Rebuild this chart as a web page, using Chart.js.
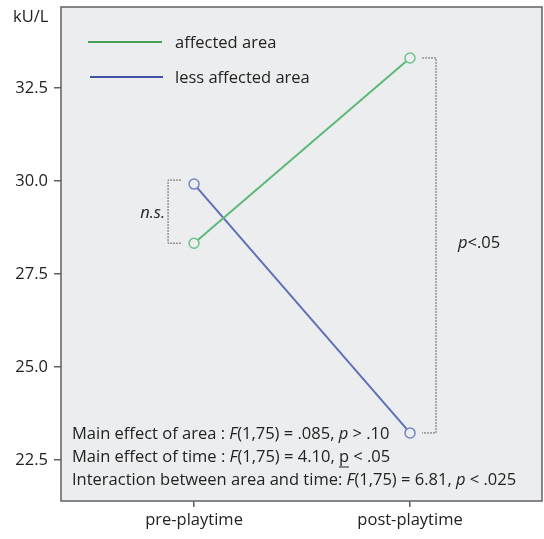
<!DOCTYPE html>
<html>
<head>
<meta charset="utf-8">
<script src="https://cdn.jsdelivr.net/npm/chart.js@4.4.1/dist/chart.umd.min.js"></script>
<style>
  body { margin: 0; background: #fff; }
</style>
</head>
<body>
<canvas id="myChart" width="544" height="539"></canvas>
<script>
const categories = ['pre-playtime', 'post-playtime'];
const affectedArea = [28.33, 33.31];
const lessAffectedArea = [29.92, 23.23];
const yTicks = [22.5, 25.0, 27.5, 30.0, 32.5];

const FONT = '"Open Sans", "Noto Sans", sans-serif';
const TXT = '#222';
const FS = 16.5;

function toPoints(values) {
    return values.map(function (v, i) { return { x: i, y: v }; });
}

// draw a line of text made of pieces, some italic / underlined
function drawRich(ctx, x, y, parts, size) {
    parts.forEach(function (p) {
        ctx.font = (p.i ? 'italic ' : '') + size + 'px ' + FONT;
        ctx.fillText(p.t, x, y);
        var w = ctx.measureText(p.t).width;
        if (p.u) {
            ctx.beginPath();
            ctx.moveTo(x, y + 10);
            ctx.lineTo(x + w, y + 10);
            ctx.lineWidth = 1;
            ctx.strokeStyle = TXT;
            ctx.stroke();
        }
        x += w;
    });
}

const framePlugin = {
    id: 'frame',
    beforeDraw(chart) {
        const ctx = chart.ctx, a = chart.chartArea;
        ctx.save();
        ctx.fillStyle = '#ecedee';
        ctx.fillRect(a.left, a.top, a.right - a.left, a.bottom - a.top);
        ctx.restore();
    },
    afterDraw(chart) {
        const ctx = chart.ctx, a = chart.chartArea;
        const xs = chart.scales.x, ys = chart.scales.y;
        ctx.save();
        ctx.strokeStyle = '#5f6062';
        ctx.lineWidth = 1.5;
        ctx.strokeRect(a.left, a.top, a.right - a.left, a.bottom - a.top);

        // unit label
        ctx.fillStyle = TXT;
        ctx.font = FS + 'px ' + FONT;
        ctx.textBaseline = 'middle';
        ctx.fillText('kU/L', 13, 17);

        // legend
        ctx.lineWidth = 2;
        ctx.strokeStyle = '#46a055';
        ctx.beginPath(); ctx.moveTo(88, 42); ctx.lineTo(162, 42); ctx.stroke();
        ctx.strokeStyle = '#3f52a8';
        ctx.beginPath(); ctx.moveTo(90, 77); ctx.lineTo(163, 77); ctx.stroke();
        ctx.fillText('affected area', 175, 43);
        ctx.fillText('less affected area', 175, 78);

        // brackets
        ctx.strokeStyle = '#666';
        ctx.lineWidth = 1;
        ctx.setLineDash([2, 1]);
        const xPre = xs.getPixelForValue(0), xPost = xs.getPixelForValue(1);
        const yA0 = ys.getPixelForValue(affectedArea[0]), yL0 = ys.getPixelForValue(lessAffectedArea[0]);
        const yA1 = ys.getPixelForValue(affectedArea[1]), yL1 = ys.getPixelForValue(lessAffectedArea[1]);
        ctx.beginPath();
        ctx.moveTo(xPre - 13, yL0 - 4); ctx.lineTo(xPre - 26, yL0 - 4);
        ctx.lineTo(xPre - 26, yA0); ctx.lineTo(xPre - 13, yA0);
        ctx.stroke();
        ctx.beginPath();
        ctx.moveTo(xPost + 12, yA1); ctx.lineTo(xPost + 26, yA1);
        ctx.lineTo(xPost + 26, yL1); ctx.lineTo(xPost + 12, yL1);
        ctx.stroke();
        ctx.setLineDash([]);

        ctx.fillStyle = TXT;
        ctx.textAlign = 'right';
        ctx.font = 'italic ' + FS + 'px ' + FONT;
        ctx.fillText('n.s.', xPre - 29, (yA0 + yL0) / 2);
        ctx.textAlign = 'left';
        drawRich(ctx, 458, 243, [{ t: 'p', i: true }, { t: '<.05' }], FS);

        // statistics text
        const lines = [
            [{ t: 'Main effect of area : ' }, { t: 'F', i: true }, { t: '(1,75) = .085, ' }, { t: 'p', i: true }, { t: ' > .10' }],
            [{ t: 'Main effect of time : ' }, { t: 'F', i: true }, { t: '(1,75) = 4.10, ' }, { t: 'p', u: true }, { t: ' < .05' }],
            [{ t: 'Interaction between area and time: ' }, { t: 'F', i: true }, { t: '(1,75) = 6.81, ' }, { t: 'p', i: true }, { t: ' < .025' }]
        ];
        lines.forEach(function (l, i) { drawRich(ctx, 72, 434 + i * 23, l, FS); });
        ctx.restore();
    }
};

new Chart(document.getElementById('myChart'), {
    type: 'line',
    data: {
        datasets: [{
            label: 'affected area',
            data: toPoints(affectedArea),
            borderColor: '#5cb97a',
            borderWidth: 2,
            pointRadius: 5,
            pointBorderWidth: 1.5,
            pointBorderColor: '#6cc38a',
            pointBackgroundColor: '#ecedee'
        }, {
            label: 'less affected area',
            data: toPoints(lessAffectedArea),
            borderColor: '#6070b8',
            borderWidth: 2,
            pointRadius: 5,
            pointBorderWidth: 1.5,
            pointBorderColor: '#7484c4',
            pointBackgroundColor: '#ecedee'
        }]
    },
    options: {
        responsive: false,
        animation: false,
        layout: { padding: 0, autoPadding: false },
        plugins: { legend: { display: false }, tooltip: { enabled: false } },
        scales: {
            x: {
                type: 'linear',
                min: -0.616,
                max: 1.611,
                afterBuildTicks: function (s) { s.ticks = [{ value: 0 }, { value: 1 }]; },
                afterFit: function (s) { s.height = 38; s.paddingRight = 2; },
                ticks: {
                    color: TXT,
                    font: { family: FONT, size: FS },
                    padding: 3,
                    callback: function (v) { return categories[v]; }
                },
                grid: { drawOnChartArea: false, tickLength: 6, color: '#5f6062', lineWidth: 1.5 },
                border: { display: false }
            },
            y: {
                min: 21.40,
                max: 34.68,
                afterBuildTicks: function (s) { s.ticks = yTicks.map(function (v) { return { value: v }; }); },
                afterFit: function (s) { s.width = 61; s.paddingTop = 7; },
                ticks: {
                    color: TXT,
                    font: { family: FONT, size: FS },
                    padding: 6,
                    callback: function (v) { return v.toFixed(1); }
                },
                grid: { drawOnChartArea: false, tickLength: 7, color: '#5f6062', lineWidth: 1.5 },
                border: { display: false }
            }
        }
    },
    plugins: [framePlugin]
});
</script>
</body>
</html>
